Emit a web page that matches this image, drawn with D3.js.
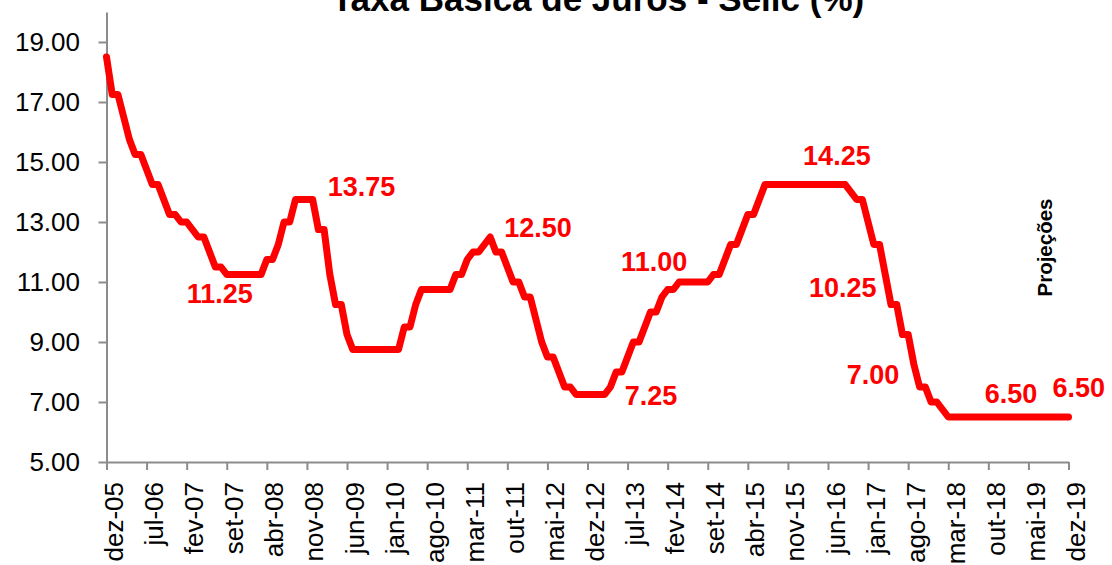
<!DOCTYPE html>
<html>
<head>
<meta charset="utf-8">
<script src="https://cdn.jsdelivr.net/npm/d3@7"></script>
<style>
  body { margin: 0; background: #fff; }
  text { font-family: "Liberation Sans", Arial, sans-serif; }
</style>
</head>
<body>
<svg id="chart" width="1112" height="565"></svg>
<script>
// Selic rate, end of month, dez-05 .. dez-19
var selic = [
  18.50,
  17.25, 17.25, 16.50, 15.75, 15.25, 15.25, 14.75, 14.25, 14.25, 13.75, 13.25, 13.25,
  13.00, 13.00, 12.75, 12.50, 12.50, 12.00, 11.50, 11.50, 11.25, 11.25, 11.25, 11.25,
  11.25, 11.25, 11.25, 11.75, 11.75, 12.25, 13.00, 13.00, 13.75, 13.75, 13.75, 13.75,
  12.75, 12.75, 11.25, 10.25, 10.25, 9.25, 8.75, 8.75, 8.75, 8.75, 8.75, 8.75,
  8.75, 8.75, 8.75, 9.50, 9.50, 10.25, 10.75, 10.75, 10.75, 10.75, 10.75, 10.75,
  11.25, 11.25, 11.75, 12.00, 12.00, 12.25, 12.50, 12.00, 12.00, 11.50, 11.00, 11.00,
  10.50, 10.50, 9.75, 9.00, 8.50, 8.50, 8.00, 7.50, 7.50, 7.25, 7.25, 7.25,
  7.25, 7.25, 7.25, 7.50, 8.00, 8.00, 8.50, 9.00, 9.00, 9.50, 10.00, 10.00,
  10.50, 10.75, 10.75, 11.00, 11.00, 11.00, 11.00, 11.00, 11.00, 11.25, 11.25, 11.75,
  12.25, 12.25, 12.75, 13.25, 13.25, 13.75, 14.25, 14.25, 14.25, 14.25, 14.25, 14.25,
  14.25, 14.25, 14.25, 14.25, 14.25, 14.25, 14.25, 14.25, 14.25, 14.00, 13.75, 13.75,
  13.00, 12.25, 12.25, 11.25, 10.25, 10.25, 9.25, 9.25, 8.25, 7.50, 7.50, 7.00,
  7.00, 6.75, 6.50, 6.50, 6.50, 6.50, 6.50, 6.50, 6.50, 6.50, 6.50, 6.50,
  6.50, 6.50, 6.50, 6.50, 6.50, 6.50, 6.50, 6.50, 6.50, 6.50, 6.50, 6.50
]
var monthNames = ['jan', 'fev', 'mar', 'abr', 'mai', 'jun', 'jul', 'ago', 'set', 'out', 'nov', 'dez']
var yTicks = [5, 7, 9, 11, 13, 15, 17, 19]
// highlighted values: month index, label
var notes = [
  [21, '11.25'], [36, '13.75'], [67, '12.50'], [87, '7.25'], [100, '11.00'],
  [122, '14.25'], [137, '10.25'], [145, '7.00'], [156, '6.50'], [168, '6.50']
]
var noteOffsets = [
  [-40, 28.5], [15, -4], [14, 0], [20, 10], [-58, -11],
  [-2, -20], [-82, -8], [-90, -18], [-15, -14], [-16, -20]
]

// month label for index i (0 = dez-05)
function monthLabel (i) {
  var m = (11 + i) % 12
  var yr = 5 + Math.floor((11 + i) / 12)
  return monthNames[m] + '-' + (yr < 10 ? '0' + yr : yr)
}

var svg = d3.select('#chart')
var x = d3.scaleLinear().domain([0, selic.length - 1]).range([106.5, 1068.5])
var y = d3.scaleLinear().domain([5, 20]).range([462, 12])

/** title, partly above the picture */
svg.append('text').attr('x', 598).attr('y', 10.5).attr('text-anchor', 'middle')
  .style('font-size', '35px').style('font-weight', 'bold').text('Taxa Básica de Juros - Selic (%)')

/** axes */
var xTickVals = d3.range(0, selic.length, 7)
var xAxis = svg.append('g').attr('transform', 'translate(0,462)')
  .call(d3.axisBottom(x).tickValues(xTickVals).tickSize(8).tickSizeOuter(0).tickFormat(monthLabel))
xAxis.selectAll('text')
  .attr('transform', 'rotate(-90)')
  .attr('text-anchor', 'end')
  .attr('x', -20).attr('y', 16).attr('dy', 0)
  .style('font-size', '26px').style('fill', '#000')

var yAxis = svg.append('g').attr('transform', 'translate(106.5,0)')
  .call(d3.axisLeft(y).tickValues(yTicks).tickSize(8).tickSizeOuter(0).tickPadding(18.5).tickFormat(d3.format('.2f')))
yAxis.selectAll('text').style('font-size', '26px').style('fill', '#000')

svg.selectAll('.domain, .tick line').attr('stroke', '#8c8c8c').attr('stroke-width', 2)

/** line */
var line = d3.line().x(function (d, i) { return x(i) }).y(function (d) { return y(d) })
svg.append('path').datum(selic).attr('d', line)
  .attr('fill', 'none').attr('stroke', '#ff0000').attr('stroke-width', 7)
  .attr('stroke-linejoin', 'round').attr('stroke-linecap', 'round')

/** value labels */
notes.forEach(function (n, k) {
  svg.append('text')
    .attr('x', x(n[0]) + noteOffsets[k][0])
    .attr('y', y(selic[n[0]]) + noteOffsets[k][1])
    .style('font-size', '27px').style('font-weight', 'bold').style('fill', '#ff0000')
    .text(n[1])
})

svg.append('text').attr('transform', 'translate(1052,247.5) rotate(-90)').attr('text-anchor', 'middle')
  .style('font-size', '20.5px').style('font-weight', 'bold').text('Projeções')
</script>
</body>
</html>
